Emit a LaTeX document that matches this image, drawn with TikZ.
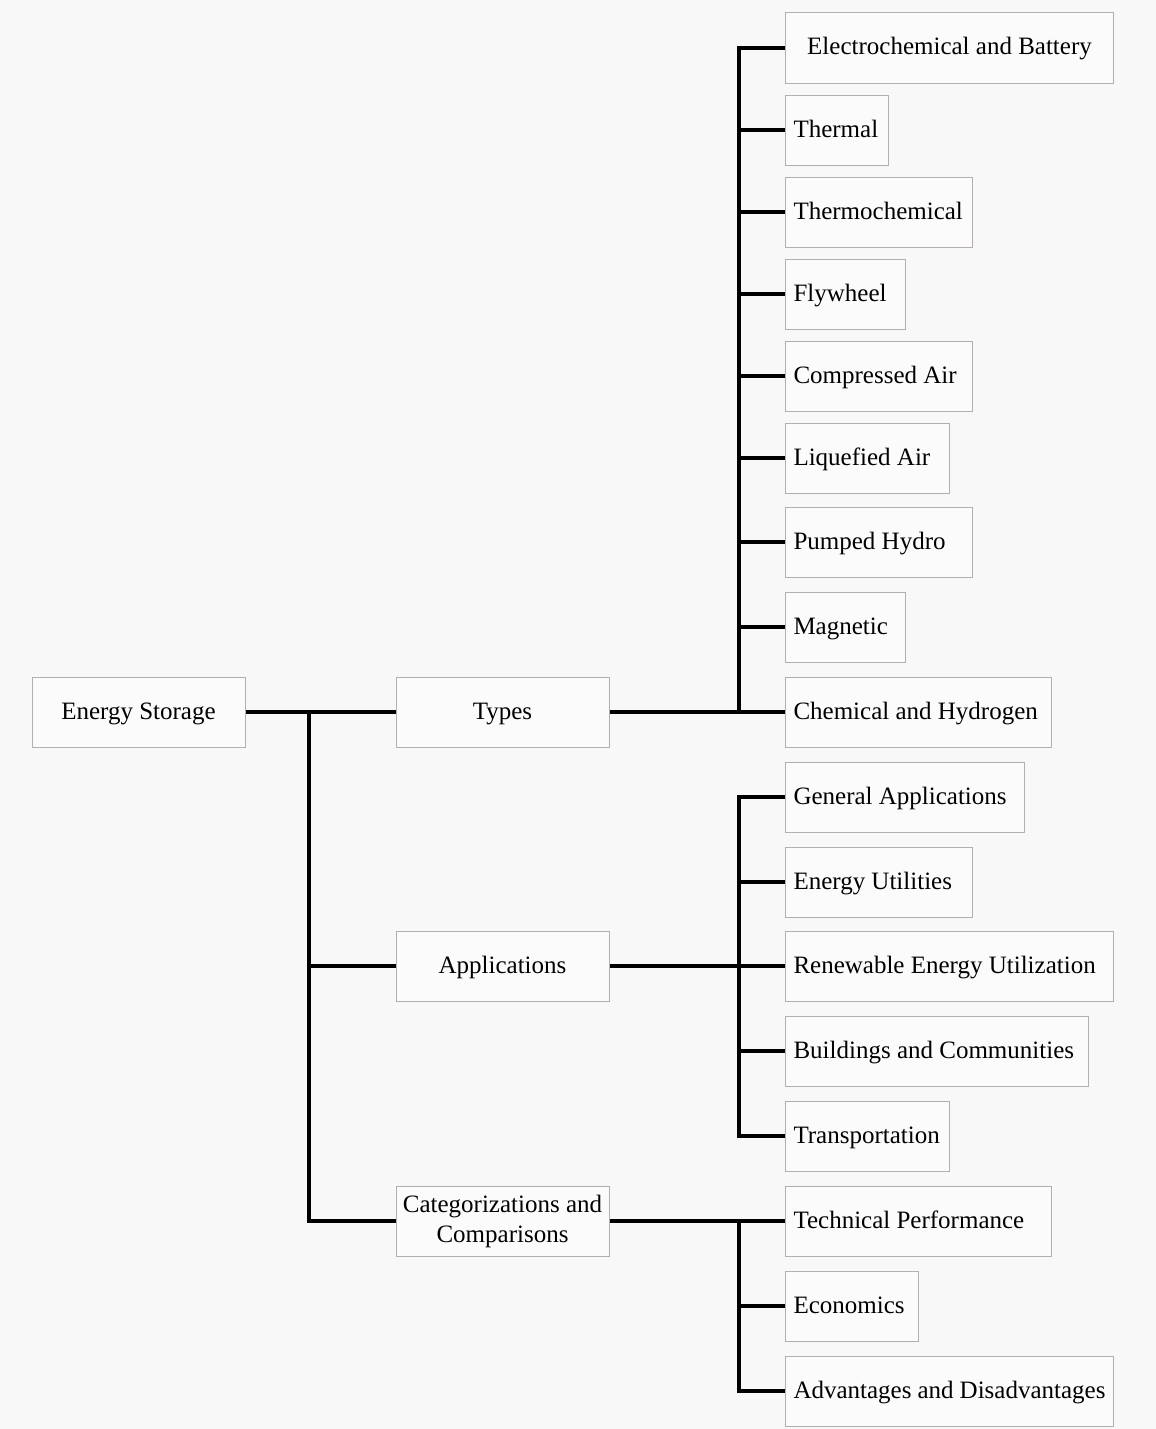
\documentclass[tikz,border=0pt]{standalone}
\usepackage{fontspec}
\setmainfont{Liberation Serif}
\definecolor{bgc}{HTML}{F8F8F8}
\definecolor{boxfill}{HTML}{FBFBFB}
\definecolor{boxline}{HTML}{B4AEAE}
\begin{document}
\begin{tikzpicture}[x=1pt,y=-1pt,
  every node/.style={font=\fontsize{25}{30}\selectfont},
  box/.style={draw=boxline, line width=1pt, fill=boxfill, minimum height=70pt, inner sep=0pt},
  cbox/.style={box, minimum width=213pt, align=center},
  rbox/.style={box, anchor=west, inner xsep=8pt, align=flush left, text height=19pt, text depth=5pt},
  conn/.style={line width=3.2pt, black}]
\useasboundingbox[fill=bgc] (0,0) rectangle (1156,1429);
% left column
\node[cbox, text height=19pt, text depth=5pt] (es) at (138.5,712) {Energy Storage};
\node[cbox, text height=19pt, text depth=5pt] (types) at (502.5,712) {Types};
\node[cbox, text height=19pt, text depth=5pt] (apps) at (502.5,966) {Applications};
\node[cbox] (cat) at (502.5,1221) {Categorizations and\\Comparisons};
% types
\node[box, anchor=west, minimum width=328pt, align=center, text height=19pt, text depth=5pt] (t1) at (785,48) {Electrochemical and Battery};
\node[rbox, text width=87pt] (t2) at (785,130) {Thermal};
\node[rbox, text width=171pt] (t3) at (785,212) {Thermochemical};
\node[rbox, text width=104pt] (t4) at (785,294) {Flywheel};
\node[rbox, text width=171pt] (t5) at (785,376) {Compressed Air};
\node[rbox, text width=148pt] (t6) at (785,458) {Liquefied Air};
\node[rbox, text width=171pt] (t7) at (785,542) {Pumped Hydro};
\node[rbox, text width=104pt] (t8) at (785,627) {Magnetic};
\node[rbox, text width=250pt] (t9) at (785,712) {Chemical and Hydrogen};
% applications
\node[rbox, text width=223pt] (a1) at (785,797) {General Applications};
\node[rbox, text width=171pt] (a2) at (785,882) {Energy Utilities};
\node[rbox, text width=312pt] (a3) at (785,966) {Renewable Energy Utilization};
\node[rbox, text width=287pt] (a4) at (785,1051) {Buildings and Communities};
\node[rbox, text width=148pt] (a5) at (785,1136) {Transportation};
% categorizations
\node[rbox, text width=250pt] (c1) at (785,1221) {Technical Performance};
\node[rbox, text width=117pt] (c2) at (785,1306) {Economics};
\node[rbox, text width=312pt] (c3) at (785,1391) {Advantages and Disadvantages};
% connectors
\coordinate (j0) at (309,712);
\draw[conn] (es.east) -- (types.west);
\draw[conn] (j0) |- (apps.west);
\draw[conn] (j0) |- (cat.west);
\coordinate (jt) at (739,712);
\draw[conn] (types.east) -- (t9.west);
\foreach \n in {t1,t2,t3,t4,t5,t6,t7,t8}{\draw[conn] (jt) |- (\n.west);}
\coordinate (ja) at (739,966);
\draw[conn] (apps.east) -- (a3.west);
\foreach \n in {a1,a2,a4,a5}{\draw[conn] (ja) |- (\n.west);}
\coordinate (jc) at (739,1221);
\draw[conn] (cat.east) -- (c1.west);
\foreach \n in {c2,c3}{\draw[conn] (jc) |- (\n.west);}
\end{tikzpicture}
\end{document}
